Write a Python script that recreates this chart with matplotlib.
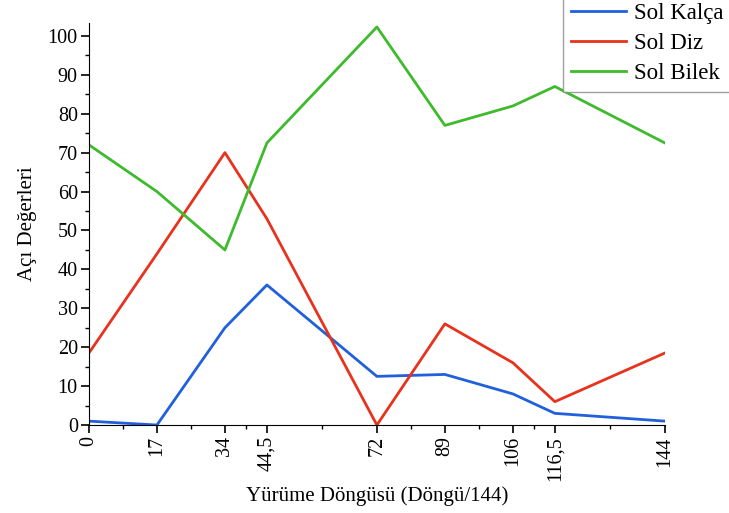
import numpy as np
import matplotlib
matplotlib.use("Agg")
import matplotlib.pyplot as plt
from matplotlib.ticker import FixedLocator

plt.rcParams['font.family'] = ['Liberation Serif', 'DejaVu Serif']

# gait cycle positions
cycle = [0, 17, 34, 44.5, 72, 89, 106, 116.5, 144]
cycle_labels = ['0', '17', '34', '44,5', '72', '89', '106', '116,5', '144']

sol_kalca = [1, 0, 25, 36, 12.5, 13, 8, 3, 1]
sol_diz = [18.5, 44, 70, 53, 0, 26, 16, 6, 18.5]
sol_bilek = [72, 60, 45, 72.5, 102.3, 77, 82, 87, 72.5]

fig = plt.figure(figsize=(7.29, 5.13), dpi=100)
ax = fig.add_axes([0.122, 0.1715, 0.79, 0.7835])

ax.plot(cycle, sol_kalca, color='#2060dc', lw=2, label='Sol Kalça')
ax.plot(cycle, sol_diz, color='#e8321c', lw=2, label='Sol Diz')
ax.plot(cycle, sol_bilek, color='#3dbb2c', lw=2, label='Sol Bilek')

ax.set_xlim(0, 144)
ax.set_ylim(0, 103.3)
ax.spines['top'].set_visible(False)
ax.spines['right'].set_visible(False)

ax.set_xticks(cycle)
ax.set_xticklabels(cycle_labels, rotation=90)
mids = [(a + b) / 2 for a, b in zip(cycle[:-1], cycle[1:])]
ax.xaxis.set_minor_locator(FixedLocator(mids))
ax.set_yticks(np.arange(0, 101, 10))
ax.yaxis.set_minor_locator(FixedLocator(np.arange(5, 101, 10)))
ax.tick_params(which='major', length=6, width=1.2, labelsize=14.5, pad=2)
ax.tick_params(which='minor', length=3, width=1)

ax.set_xlabel('Yürüme Döngüsü (Döngü/144)', fontsize=15, labelpad=4)
ax.set_ylabel('Açı Değerleri', fontsize=15, labelpad=8)

leg = fig.legend(loc='lower right', bbox_to_anchor=(1.004, 0.8207), fontsize=16.5,
                 handlelength=2.4, frameon=True, fancybox=False,
                 edgecolor='#888888', borderpad=0.35, labelspacing=0.4,
                 handletextpad=0.35, borderaxespad=0)
leg.get_frame().set_linewidth(1)

fig.savefig('out.png', dpi=100)
